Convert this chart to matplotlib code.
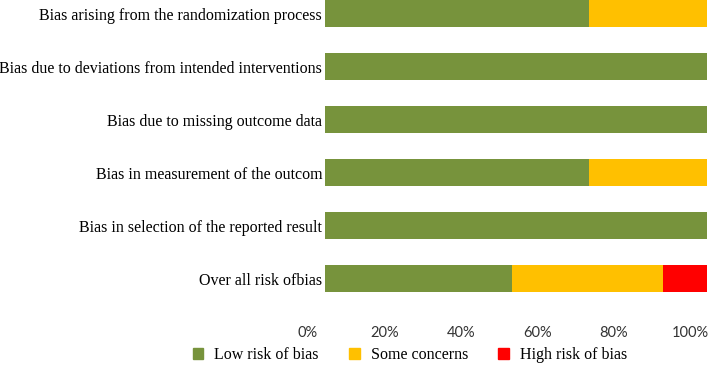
import matplotlib.pyplot as plt
import matplotlib.transforms as mtransforms
from matplotlib.patches import Patch
import numpy as np

plt.rcParams['font.family'] = ['Liberation Serif', 'DejaVu Serif']

domains = ['Bias arising from the randomization process',
           'Bias due to deviations from intended interventions',
           'Bias due to missing outcome data',
           'Bias in measurement of the outcom',
           'Bias in selection of the reported result',
           'Over all risk ofbias']
low = [69, 100, 100, 69, 100, 49]
some = [31, 0, 0, 31, 0, 39.5]
high = [0, 0, 0, 0, 0, 11.5]

series = ['Low risk of bias', 'Some concerns', 'High risk of bias']
colors = ['#77933C', '#FFC000', '#FF0000']
ticks = [0, 20, 40, 60, 80, 100]

fig = plt.figure(figsize=(7.09, 3.68), dpi=100)
ax = fig.add_axes([325 / 709, 1 - 305 / 368, 382 / 709, 305 / 368])

y = np.arange(len(domains))
left = np.zeros(len(domains))
for vals, col in zip([low, some, high], colors):
    ax.barh(y, vals, left=left, height=0.51, color=col)
    left += np.array(vals)

ax.set_xlim(0, 100)
ax.set_ylim(5.5, -0.255)
ax.set_yticks(y)
ax.set_yticklabels(domains, fontsize=11.5)
ax.set_xticks(ticks)
ax.set_xticklabels([f'{t}%' for t in ticks], fontsize=10.5,
                   family=['Lato', 'DejaVu Sans'], color='#333333')
ax.tick_params(length=0)
ax.tick_params(axis='x', pad=15)
ax.tick_params(axis='y', pad=2)
for s in ax.spines.values():
    s.set_visible(False)

# tick labels sit a little left of the bar scale in the original
shift = mtransforms.ScaledTranslation(-17 / 100, 0, fig.dpi_scale_trans)
for lab in ax.get_xticklabels():
    lab.set_transform(lab.get_transform() + shift)

handles = [Patch(color=c) for c in colors]
fig.legend(handles, series, loc='center', bbox_to_anchor=(410 / 709, 1 - 355 / 368),
           ncol=3, frameon=False, fontsize=11.5, handlelength=0.65, handleheight=0.65,
           columnspacing=1.9, handletextpad=0.7)

fig.savefig('out.png', dpi=100)
